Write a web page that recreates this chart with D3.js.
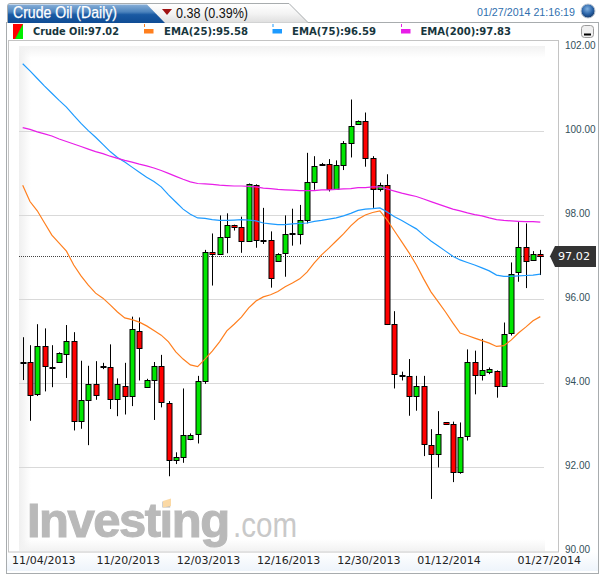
<!DOCTYPE html>
<html><head><meta charset="utf-8">
<script src="https://cdn.jsdelivr.net/npm/d3@7/dist/d3.min.js"></script>
<style>html,body{margin:0;padding:0;background:#fff}svg{display:block}</style>
</head><body><div id="c"></div>
<script>
const open=[94.51,94.49,93.73,94.87,94.39,94.49,94.68,95.01,93.09,93.59,93.97,94.40,94.37,93.61,93.94,93.68,95.25,93.90,94.06,94.40,93.52,92.17,92.25,92.66,92.78,94.05,97.11,97.06,97.47,97.76,97.71,97.37,98.72,97.41,97.41,96.90,97.09,97.54,97.54,97.87,98.78,99.21,99.21,98.63,99.18,99.71,100.16,100.25,99.35,98.61,98.72,95.41,94.18,94.17,93.68,93.94,92.52,92.30,93.06,93.02,91.88,92.75,94.49,94.18,94.27,94.29,93.94,95.18,96.64,97.23,96.94,97.08];
const close=[94.49,93.71,94.87,94.40,94.37,94.71,94.99,93.09,93.59,93.97,93.71,94.39,93.61,93.97,93.68,95.28,94.83,94.06,94.40,93.54,92.17,92.25,92.77,92.77,94.04,97.11,97.06,97.48,97.77,97.71,97.37,98.75,97.40,97.39,96.49,97.08,97.54,97.56,97.87,98.78,99.16,99.18,98.61,99.18,99.71,100.11,100.25,99.35,98.61,98.71,95.41,94.21,94.16,93.68,93.94,92.54,92.30,92.79,93.02,91.88,92.72,94.49,94.18,94.30,94.33,93.92,95.17,96.60,97.23,96.90,97.08,97.02];
const high=[95.09,94.90,95.40,95.30,94.90,94.73,95.38,95.21,94.53,94.41,94.52,94.48,94.92,94.11,94.48,95.58,95.56,94.10,94.50,94.67,93.57,92.35,93.87,92.80,94.17,97.17,97.56,97.99,98.04,97.77,97.96,98.75,98.73,98.17,97.61,97.09,97.99,98.15,98.24,99.48,99.40,99.24,99.33,99.30,99.76,100.75,100.25,100.44,99.40,98.77,98.97,95.71,94.27,94.57,94.17,94.17,92.90,93.33,93.06,93.08,93.06,94.80,94.77,95.05,94.37,94.30,95.44,96.87,97.83,97.80,97.14,97.17];
const low=[94.07,93.10,93.69,93.80,93.90,94.48,94.12,92.87,92.91,92.52,93.60,94.33,93.38,93.21,93.25,93.45,94.06,93.89,93.12,93.42,91.78,92.07,92.10,92.64,92.56,93.98,96.32,97.06,97.09,97.63,97.10,97.37,97.22,97.31,96.27,96.89,96.53,97.27,97.30,97.80,98.60,99.17,98.56,98.63,99.07,99.37,100.16,99.15,98.17,98.56,95.38,93.87,94.06,93.22,93.34,92.26,91.24,91.99,93.00,91.64,91.84,92.63,93.73,94.06,94.21,93.65,93.94,95.13,96.41,96.26,96.93,96.57];
const ema25=[98.71,98.32,98.10,97.81,97.52,97.33,97.14,96.81,96.55,96.33,96.14,96.02,95.86,95.69,95.55,95.51,95.45,95.36,95.25,95.14,94.98,94.74,94.57,94.43,94.39,94.57,94.76,94.98,95.24,95.40,95.57,95.79,95.95,96.05,96.10,96.18,96.29,96.38,96.48,96.64,96.86,97.05,97.21,97.38,97.55,97.74,97.90,98.00,98.06,98.10,97.88,97.62,97.36,97.10,96.81,96.48,96.17,95.93,95.69,95.43,95.19,95.13,95.07,95.01,94.95,94.87,94.89,95.02,95.19,95.33,95.48,95.58];
const ema75=[101.60,101.43,101.25,101.07,100.90,100.73,100.57,100.37,100.18,100.01,99.85,99.68,99.51,99.37,99.26,99.14,99.02,98.90,98.80,98.67,98.48,98.31,98.14,98.02,97.93,97.92,97.89,97.87,97.87,97.88,97.89,97.88,97.86,97.81,97.79,97.77,97.77,97.79,97.80,97.81,97.85,97.87,97.90,97.93,97.98,98.04,98.11,98.14,98.15,98.17,98.07,97.96,97.87,97.77,97.67,97.52,97.38,97.26,97.14,97.02,96.93,96.87,96.81,96.74,96.67,96.57,96.54,96.54,96.55,96.56,96.57,96.59];
const ema200=[100.08,100.04,99.98,99.93,99.88,99.81,99.75,99.69,99.63,99.57,99.51,99.46,99.40,99.35,99.30,99.26,99.21,99.17,99.12,99.06,98.99,98.92,98.85,98.79,98.75,98.74,98.73,98.71,98.70,98.69,98.69,98.68,98.67,98.64,98.63,98.61,98.60,98.59,98.58,98.58,98.58,98.60,98.60,98.61,98.62,98.63,98.65,98.65,98.67,98.67,98.62,98.57,98.52,98.48,98.44,98.38,98.32,98.26,98.20,98.14,98.10,98.05,98.01,97.98,97.93,97.89,97.87,97.86,97.85,97.84,97.84,97.83];
const tickIdx=[0,14,25,36,47,58,71];
const tickDates=["11/04/2013","11/20/2013","12/03/2013","12/16/2013","12/30/2013","01/12/2014","01/27/2014"];
const priceTicks=[90,92,94,96,98,100,102];
const gridTicks=[92,94,96,98,100];
const lastPrice=97.02;
const legendItems=["Crude Oil:97.02","EMA(25):95.58","EMA(75):96.59","EMA(200):97.83"];
const emaColors=["#ff7f1e","#1e9bff","#e81ee8"];

const svg=d3.select("#c").append("svg").attr("width",605).attr("height",574);
const defs=svg.append("defs");
function lg(id,x2,y2,stops){const g=defs.append("linearGradient").attr("id",id).attr("x1",0).attr("y1",0).attr("x2",x2).attr("y2",y2);
  stops.forEach(s=>g.append("stop").attr("offset",s[0]).attr("stop-color",s[1]).attr("stop-opacity",s[2]===undefined?1:s[2]));}
lg("blue",0,1,[[0,"#86aed8"],[0.4,"#4d84bd"],[0.55,"#1a5aa3"],[1,"#0f4c94"]]);
lg("gray",0,1,[[0,"#ffffff"],[0.5,"#f4f4f4"],[1,"#dedede"]]);
lg("foot",0,1,[[0,"#ffffff"],[1,"#eef4fb"]]);
lg("fl",1,0,[[0,"#efefef",1],[1,"#efefef",0]]);
lg("ft",0,1,[[0,"#f2f2f2",1],[1,"#f2f2f2",0]]);
lg("fb",0,1,[[0,"#f2f2f2",0],[1,"#f2f2f2",1]]);
const rg=defs.append("radialGradient").attr("id","globe").attr("cx",.45).attr("cy",.35).attr("r",.7);
rg.append("stop").attr("offset",0).attr("stop-color","#7fb0e0");rg.append("stop").attr("offset",.55).attr("stop-color","#2b64a8");rg.append("stop").attr("offset",1).attr("stop-color","#0e2f5e");

// panel
svg.append("rect").attr("x",6.5).attr("y",22.5).attr("width",592).attr("height",551).attr("fill","#fff").attr("stroke","#a8acae");
svg.append("rect").attr("x",7).attr("y",552).attr("width",591).attr("height",19).attr("fill","url(#foot)");
// tabs
svg.append("path").attr("d","M7.5,23 L7.5,6 Q7.5,3.5 10,3.5 L289,3.5 L308,22.5 L598,22.5").attr("fill","url(#gray)").attr("stroke","#a8acae");
svg.append("path").attr("d","M8,23 L8,4.5 L147,4.5 L165,23 Z").attr("fill","url(#blue)");
const txt=(x,y,s,size,fill,fam,w,len)=>{const t=svg.append("text").attr("x",x).attr("y",y).attr("font-size",size).attr("fill",fill).attr("font-family",fam).attr("font-weight",w||"normal").text(s);
  if(len)t.attr("textLength",len).attr("lengthAdjust","spacingAndGlyphs");return t;};
txt(13,18,"Crude Oil (Daily)",16,"#fff","Liberation Sans","normal",104).attr("stroke","#fff").attr("stroke-width",0.25);
svg.append("path").attr("d","M162,9 L172,9 L167,15 Z").attr("fill","#a01212");
txt(176,18,"0.38 (0.39%)",15,"#111","Liberation Sans","normal",72);
txt(477,16,"01/27/2014 21:16:19",11,"#2f6fae","Liberation Sans","normal",98);
svg.append("circle").attr("cx",588).attr("cy",11).attr("r",7).attr("fill","url(#globe)").attr("stroke","#bfc8d2");

// legend
svg.append("rect").attr("x",13).attr("y",24).attr("width",10).attr("height",15).attr("fill","#f00");
svg.append("path").attr("d","M23,24 L23,39 L15,39 Z").attr("fill","#0e0");
const legX=[33,164,292,420.5], legW=[86,84,84,90.5], legIcon=[null,144,272.5,401];
legendItems.forEach((s,i)=>{
  txt(legX[i],35,s,10.5,"#17363d","DejaVu Sans","bold",legW[i]);
  if(i>0){
    svg.append("rect").attr("x",legIcon[i]).attr("y",29).attr("width",9.5).attr("height",4.5).attr("fill",emaColors[i-1]);
    svg.append("rect").attr("x",legIcon[i]).attr("y",24).attr("width",1).attr("height",3).attr("fill",emaColors[i-1]);
  }
});
// collapse button
svg.append("rect").attr("x",581.5).attr("y",25.5).attr("width",12).attr("height",12).attr("rx",3).attr("fill","#f0f0f0").attr("stroke","#9a9a9a");
svg.append("rect").attr("x",584).attr("y",33.5).attr("width",7).attr("height",2).attr("fill","#000");

// plot frame
svg.append("rect").attr("x",8.5).attr("y",40.5).attr("width",550).attr("height",511.5).attr("fill","#fff").attr("stroke","#c4c4c4");
svg.append("rect").attr("x",19).attr("y",46).attr("width",12).attr("height",505).attr("fill","url(#fl)");
svg.append("rect").attr("x",19).attr("y",46).attr("width",526).attr("height",12).attr("fill","url(#ft)");
svg.append("rect").attr("x",19).attr("y",539).attr("width",526).attr("height",12).attr("fill","url(#fb)");

const x=d3.scaleLinear().domain([0,71]).range([22.7,540.3]);
const y=d3.scaleLinear().domain([90,102]).range([551,47]);
const cx=i=>Math.round(x(i))+0.5;

// grid
svg.append("g").selectAll("line").data(gridTicks).join("line")
  .attr("x1",19).attr("x2",544).attr("y1",d=>Math.round(y(d))+.5).attr("y2",d=>Math.round(y(d))+.5)
  .attr("stroke","#d9d9d9");

// watermark
txt(27,537,"Investing",49,"#b9b9b9","Liberation Sans","bold").attr("letter-spacing",-1.5).attr("stroke","#b9b9b9").attr("stroke-width",1.1);
txt(233,537,".com",35,"#c9c9c9","Liberation Sans","normal",64);
svg.append("path").attr("d","M163,501 L171,498.5 L171,506 L163,507.5 Z").attr("fill","#fbd9a5");

// last price line
svg.append("line").attr("x1",19).attr("x2",544).attr("y1",Math.round(y(lastPrice))+.5).attr("y2",Math.round(y(lastPrice))+.5)
  .attr("stroke","#444").attr("stroke-dasharray","1,1");

// candles
const idx=d3.range(open.length);
const up=i=>close[i]>=open[i];
const bodyTop=i=>Math.round(y(Math.max(open[i],close[i])))+.5;
const bodyBot=i=>Math.round(y(Math.min(open[i],close[i])))+.5;
svg.append("g").selectAll("line").data(idx).join("line")
  .attr("x1",cx).attr("x2",cx).attr("y1",i=>y(high[i])).attr("y2",i=>y(low[i]))
  .attr("stroke","#000");
svg.append("g").selectAll("rect").data(idx).join("rect")
  .attr("x",i=>cx(i)-2.5).attr("width",5)
  .attr("y",bodyTop).attr("height",i=>Math.max(1,bodyBot(i)-bodyTop(i)))
  .attr("fill",i=>up(i)?"#00e600":"#f00").attr("stroke","#000");

// EMA lines
const line=d3.line().x((d,i)=>x(i)).y(d=>y(d));
[ema25,ema75,ema200].forEach((s,k)=>{
  svg.append("path").attr("d",line(s)).attr("fill","none").attr("stroke",emaColors[k]).attr("stroke-width",1.2);
});

// y axis
const ay=svg.append("g").attr("transform","translate(565,-2)").call(d3.axisRight(y).tickValues(priceTicks).tickSize(0).tickPadding(0).tickFormat(d3.format(".2f")));
ay.select(".domain").remove();
ay.selectAll("text").attr("font-family","Liberation Sans").attr("font-size",10).attr("fill","#33505a");

// x axis: first and last labels are pushed inward/outward to their own spots
const ax=svg.append("g").attr("transform","translate(0,556)").call(d3.axisBottom(x).tickValues(tickIdx).tickSize(0).tickPadding(0).tickFormat((d,i)=>tickDates[i]));
ax.select(".domain").remove();
ax.selectAll("text").attr("font-family","DejaVu Sans").attr("font-size",11).attr("fill","#222")
  .attr("dy","0.71em").attr("y",0)
  .attr("x",d=>d===tickIdx[0]?20.5:d===tickIdx[tickIdx.length-1]?8.5:3);

// last price tag
svg.append("path").attr("d",`M550,${y(lastPrice)} L555,246 L596,246 L596,267 L555,267 Z`).attr("fill","#333");
txt(558,260,lastPrice.toFixed(2),11,"#fff","DejaVu Sans","normal",32);
</script></body></html>
